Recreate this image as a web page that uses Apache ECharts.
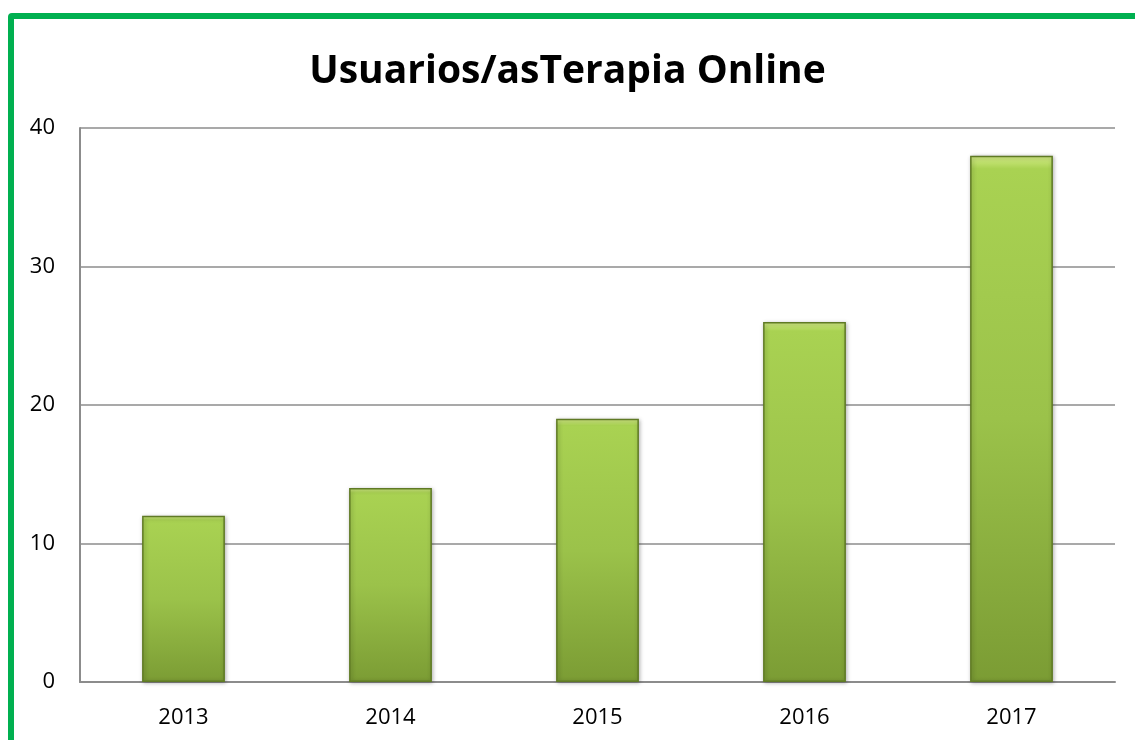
<!DOCTYPE html>
<html>
<head>
<meta charset="utf-8">
<script src="https://cdn.jsdelivr.net/npm/echarts@6/dist/echarts.min.js"></script>
<style>
  html, body { margin: 0; padding: 0; background: #fff; overflow: hidden; }
  #frame {
    position: absolute; left: 8px; top: 13px; width: 1140px; height: 760px;
    border: 6px solid #00b050; border-radius: 4px; box-sizing: border-box;
  }
  #chart { position: absolute; left: 0; top: 0; width: 1135px; height: 740px; }
</style>
</head>
<body>
<div id="frame"></div>
<div id="chart"></div>
<script>
// datos
const years = ['2013', '2014', '2015', '2016', '2017'];
const usuarios = [12, 14, 19, 26, 38];
const yTicks = { min: 0, max: 40, interval: 10 };

const chart = echarts.init(document.getElementById('chart'));

const barFill = new echarts.graphic.LinearGradient(0, 0, 0, 1, [
    { offset: 0, color: '#d6ee88' },
    { offset: 0.025, color: '#a9d252' },
    { offset: 0.5, color: '#9bc24a' },
    { offset: 1, color: '#7b9c34' }
]);

chart.setOption({
    animation: false,
    title: {
        text: 'Usuarios/asTerapia Online',
        left: 'center',
        top: 47,
        textStyle: { fontFamily: 'Open Sans', fontWeight: 'bold', fontSize: 39, color: '#000' }
    },
    grid: { left: 80, right: 20, top: 128, bottom: 58 },
    xAxis: {
        type: 'category',
        data: years,
        axisLine: { show: true, lineStyle: { color: '#8c8c8c', width: 2 } },
        axisTick: { show: false },
        axisLabel: { color: '#000', fontSize: 22, fontFamily: 'Open Sans', margin: 25 }
    },
    yAxis: {
        type: 'value',
        min: yTicks.min,
        max: yTicks.max,
        interval: yTicks.interval,
        axisLine: { show: true, lineStyle: { color: '#8c8c8c', width: 2 } },
        axisTick: { show: false },
        splitLine: { lineStyle: { color: '#8c8c8c', width: 1.5 } },
        axisLabel: { color: '#000', fontSize: 22, fontFamily: 'Open Sans', margin: 25 }
    },
    series: [{
        type: 'bar',
        data: usuarios,
        barWidth: '40%',
        itemStyle: {
            color: barFill,
            borderColor: '#5f7a24',
            borderWidth: 1.5,
            shadowColor: 'rgba(0,0,0,0.3)',
            shadowBlur: 4,
            shadowOffsetX: 1,
            shadowOffsetY: 1
        }
    }]
});
</script>
</body>
</html>
